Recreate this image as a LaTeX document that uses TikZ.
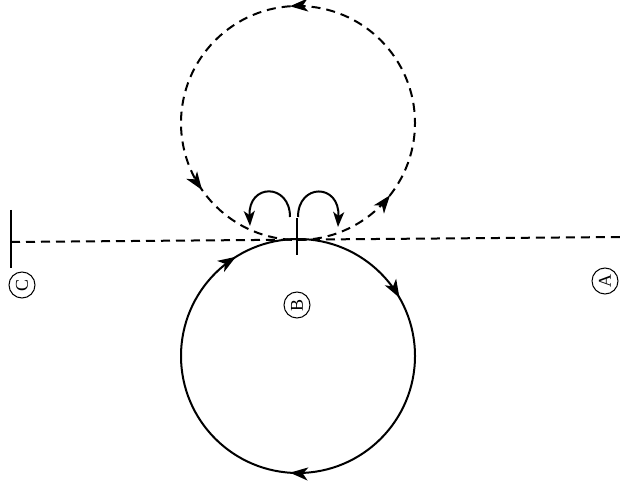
\documentclass[tikz,border=0pt]{standalone}
\usepackage{fontspec}
\setmainfont{Liberation Serif}
\usetikzlibrary{arrows.meta,decorations.markings}
\begin{document}
\begin{tikzpicture}[x=1pt,y=1pt,
  line width=2pt,
  bigtip/.tip={Stealth[length=18pt,width=13pt,inset=5pt]},
  tip/.style={-{Stealth[length=15pt,width=11pt,inset=4pt]}},
  dsh/.style={dash pattern=on 9pt off 6pt},
  lbl/.style={circle,draw,line width=1pt,inner sep=1pt,minimum size=26pt,font=\fontsize{18}{18}\selectfont,rotate=90}]
\useasboundingbox (0,0) rectangle (623,490);
% centres
\coordinate (U) at (298,367);
\coordinate (L) at (298,134);
\coordinate (Cl) at (11,248);
\coordinate (Ar) at (620,253);
% horizontal dashed line
\draw[dsh] (Cl) -- (Ar);
% ticks
\coordinate (Ct1) at (11,280); \coordinate (Ct2) at (11,222);
\draw[line width=2.5pt] (Ct1) -- (Ct2);
\coordinate (Bt1) at (297,272); \coordinate (Bt2) at (297,235);
\draw[line width=2.5pt] (Bt1) -- (Bt2);
% upper dashed circle (counterclockwise)
\draw[dsh, postaction={decorate}, decoration={markings,
   mark=at position 0.144 with {\arrow{bigtip}},
   mark=at position 0.511 with {\arrow{bigtip}},
   mark=at position 0.847 with {\arrow{bigtip}}}]
   ([shift={(270:117)}]U) arc[start angle=270, end angle=630, radius=117];
% lower solid circle (clockwise)
\draw[postaction={decorate}, decoration={markings,
   mark=at position 0.167 with {\arrow{bigtip}},
   mark=at position 0.511 with {\arrow{bigtip}},
   mark=at position 0.911 with {\arrow{bigtip}}}]
   ([shift={(90:117)}]L) arc[start angle=90, end angle=-270, radius=117];
% small loops
\coordinate (l1) at (290,273); \coordinate (l2) at (250,264);
\draw[tip] (l1) .. controls (290,307) and (248,307) .. (l2);
\coordinate (r1) at (298,273); \coordinate (r2) at (338,263);
\draw[tip] (r1) .. controls (298,307) and (340,307) .. (r2);
% labels
\node[lbl] (A) at (605,209) {A};
\node[lbl] (B) at (297,185) {B};
\node[lbl] (C) at (22,205) {C};
\end{tikzpicture}
\end{document}
